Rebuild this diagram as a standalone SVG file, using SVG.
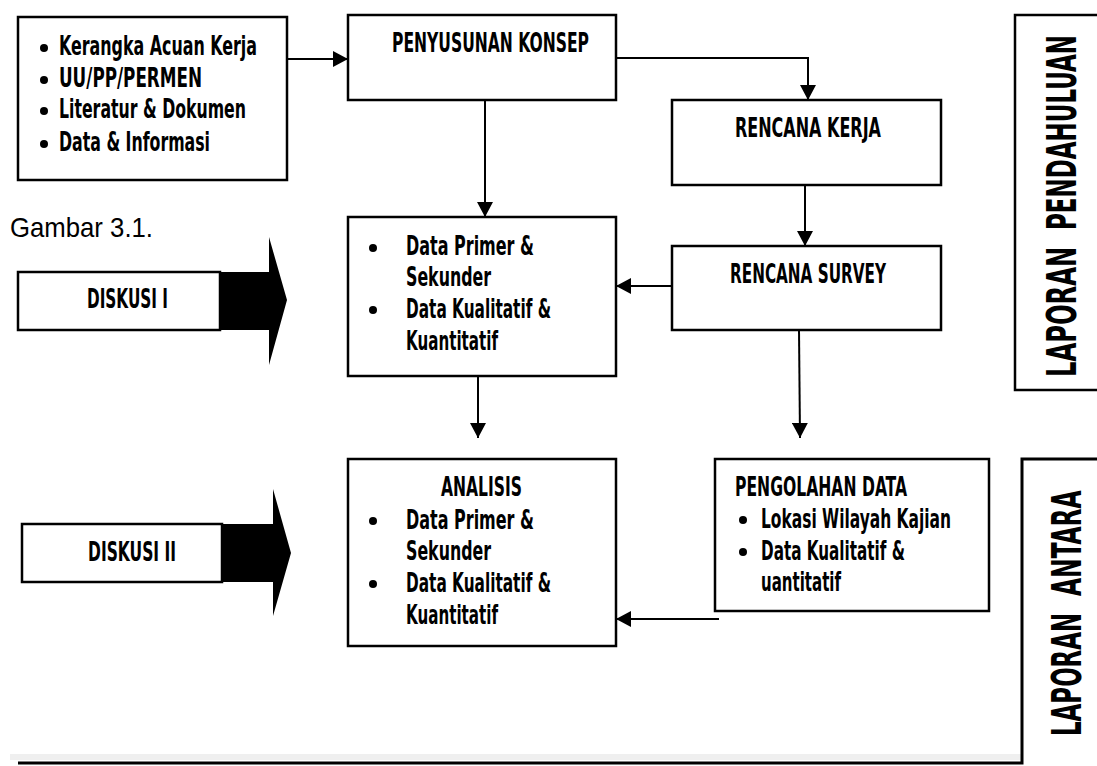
<svg xmlns="http://www.w3.org/2000/svg" width="1097" height="766" viewBox="0 0 1097 766">
  <style>
    .box { fill: #ffffff; stroke: #000000; stroke-width: 2.5; }
    .line { fill: none; stroke: #000000; stroke-width: 2; }
    .t { font-family: "DejaVu Sans", "Liberation Sans", sans-serif; font-stretch: condensed; font-weight: bold; font-size: 26px; fill: #000000; }
    .big { font-family: "DejaVu Sans", "Liberation Sans", sans-serif; font-stretch: condensed; font-weight: bold; font-size: 40px; fill: #000000; }
    .cap { font-family: "Liberation Sans", Arial, sans-serif; font-size: 28px; fill: #000000; }
    .dot { fill: #000000; }
  </style>
  <defs>
    <marker id="ah" markerWidth="16" markerHeight="16" refX="15" refY="8" orient="auto" markerUnits="userSpaceOnUse">
      <path d="M0,0 L15,8 L0,16 z" fill="#000000"/>
    </marker>
  </defs>

  <!-- bottom rule with its light shadow band -->
  <rect x="10" y="754" width="1012" height="6" fill="#efefef"/>

  <g id="sumber">
    <rect class="box" x="18" y="17" width="269" height="163"/>
    <circle class="dot" cx="44" cy="48" r="4"/>
    <circle class="dot" cx="44" cy="80" r="4"/>
    <circle class="dot" cx="44" cy="111" r="4"/>
    <circle class="dot" cx="44" cy="144" r="4"/>
    <text class="t" x="59" y="55" textLength="198" lengthAdjust="spacingAndGlyphs">Kerangka Acuan Kerja</text>
    <text class="t" x="59" y="87" textLength="143" lengthAdjust="spacingAndGlyphs">UU/PP/PERMEN</text>
    <text class="t" x="59" y="118" textLength="187" lengthAdjust="spacingAndGlyphs">Literatur &amp; Dokumen</text>
    <text class="t" x="59" y="151" textLength="151" lengthAdjust="spacingAndGlyphs">Data &amp; Informasi</text>
  </g>

  <g id="penyusunan-konsep">
    <rect class="box" x="348" y="15" width="268" height="85"/>
    <text class="t" x="392" y="52" textLength="197" lengthAdjust="spacingAndGlyphs">PENYUSUNAN KONSEP</text>
  </g>

  <g id="rencana-kerja">
    <rect class="box" x="672" y="100" width="269" height="85"/>
    <text class="t" x="735" y="137" textLength="146" lengthAdjust="spacingAndGlyphs">RENCANA KERJA</text>
  </g>

  <g id="rencana-survey">
    <rect class="box" x="672" y="246" width="269" height="84"/>
    <text class="t" x="730" y="283" textLength="156" lengthAdjust="spacingAndGlyphs">RENCANA SURVEY</text>
  </g>

  <g id="data">
    <rect class="box" x="348" y="217" width="268" height="159"/>
    <circle class="dot" cx="373" cy="248" r="4"/>
    <circle class="dot" cx="373" cy="310" r="4"/>
    <text class="t" x="406" y="255" textLength="128" lengthAdjust="spacingAndGlyphs">Data Primer &amp;</text>
    <text class="t" x="406" y="286" textLength="85" lengthAdjust="spacingAndGlyphs">Sekunder</text>
    <text class="t" x="406" y="318" textLength="145" lengthAdjust="spacingAndGlyphs">Data Kualitatif &amp;</text>
    <text class="t" x="406" y="350" textLength="92" lengthAdjust="spacingAndGlyphs">Kuantitatif</text>
  </g>

  <g id="analisis">
    <rect class="box" x="348" y="459" width="268" height="187"/>
    <text class="t" x="441" y="496" textLength="81" lengthAdjust="spacingAndGlyphs">ANALISIS</text>
    <circle class="dot" cx="373" cy="521" r="4"/>
    <circle class="dot" cx="373" cy="584" r="4"/>
    <text class="t" x="406" y="529" textLength="128" lengthAdjust="spacingAndGlyphs">Data Primer &amp;</text>
    <text class="t" x="406" y="560" textLength="85" lengthAdjust="spacingAndGlyphs">Sekunder</text>
    <text class="t" x="406" y="592" textLength="145" lengthAdjust="spacingAndGlyphs">Data Kualitatif &amp;</text>
    <text class="t" x="406" y="624" textLength="92" lengthAdjust="spacingAndGlyphs">Kuantitatif</text>
  </g>

  <g id="pengolahan-data">
    <rect class="box" x="715" y="459" width="274" height="152"/>
    <text class="t" x="735" y="496" textLength="172" lengthAdjust="spacingAndGlyphs">PENGOLAHAN DATA</text>
    <circle class="dot" cx="743" cy="520" r="4"/>
    <circle class="dot" cx="743" cy="552" r="4"/>
    <text class="t" x="761" y="528" textLength="190" lengthAdjust="spacingAndGlyphs">Lokasi Wilayah Kajian</text>
    <text class="t" x="761" y="560" textLength="144" lengthAdjust="spacingAndGlyphs">Data Kualitatif &amp;</text>
    <text class="t" x="761" y="591" textLength="80" lengthAdjust="spacingAndGlyphs">uantitatif</text>
  </g>

  <g id="caption">
    <text class="cap" x="10" y="237" textLength="143" lengthAdjust="spacingAndGlyphs">Gambar 3.1.</text>
  </g>

  <g id="diskusi-1">
    <rect class="box" x="18" y="272" width="202" height="58"/>
    <path d="M220,272 H269 V237 L287,300 L269,365 V330 H220 Z" fill="#000000"/>
    <text class="t" x="87" y="308" textLength="81" lengthAdjust="spacingAndGlyphs">DISKUSI I</text>
  </g>

  <g id="diskusi-2">
    <rect class="box" x="22" y="524" width="200" height="58"/>
    <path d="M222,524 H273 V489 L291,553 L273,616 V582 H222 Z" fill="#000000"/>
    <text class="t" x="88" y="561" textLength="88" lengthAdjust="spacingAndGlyphs">DISKUSI II</text>
  </g>

  <!-- vertical labels: narrowed along the reading direction -->
  <g id="laporan-pendahuluan">
    <path class="box" d="M1099,15 H1015 V390 H1099"/>
    <text class="big" transform="translate(1076,377) rotate(-90) scale(0.7,1)" textLength="186" lengthAdjust="spacingAndGlyphs">LAPORAN</text>
    <text class="big" transform="translate(1076,230) rotate(-90) scale(0.65,1)" textLength="300" lengthAdjust="spacingAndGlyphs">PENDAHULUAN</text>
  </g>

  <g id="laporan-antara">
    <path d="M18,763 H1022 V459 H1099" fill="none" stroke="#000000" stroke-width="3"/>
    <text class="big" transform="translate(1081,736) rotate(-90) scale(0.7,1)" textLength="176" lengthAdjust="spacingAndGlyphs">LAPORAN</text>
    <text class="big" transform="translate(1081,596) rotate(-90) scale(0.7,1)" textLength="151" lengthAdjust="spacingAndGlyphs">ANTARA</text>
  </g>

  <g id="connectors">
    <path class="line" d="M287,59 H348" marker-end="url(#ah)"/>
    <path class="line" d="M616,58 H808 V100" marker-end="url(#ah)"/>
    <path class="line" d="M485,100 V217" marker-end="url(#ah)"/>
    <path class="line" d="M805,185 V246" marker-end="url(#ah)"/>
    <path class="line" d="M672,286 H616" marker-end="url(#ah)"/>
    <path class="line" d="M478,376 L478,438" marker-end="url(#ah)"/>
    <path class="line" d="M799,330 L800,438" marker-end="url(#ah)"/>
    <path class="line" d="M719,619 H616" marker-end="url(#ah)"/>
  </g>
</svg>
